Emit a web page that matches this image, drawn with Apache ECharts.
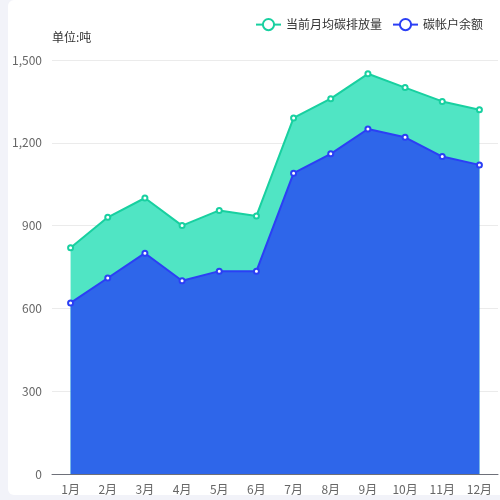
<!DOCTYPE html>
<html>
<head>
<meta charset="utf-8">
<script src="https://cdn.jsdelivr.net/npm/echarts@6/dist/echarts.min.js"></script>
<style>
  html, body { margin: 0; padding: 0; background: #f2f3f9; overflow: hidden; }
  #chart {
    position: absolute; left: 8px; top: 0; width: 492px; height: 495px;
    background: #fff; border-radius: 6px 0 0 6px;
  }
</style>
</head>
<body>
<div id="chart"></div>
<script>
// 月份
var months = ["1月", "2月", "3月", "4月", "5月", "6月", "7月", "8月", "9月", "10月", "11月", "12月"];
// 当前月均碳排放量
var emission = [820, 930, 1000, 900, 955, 935, 1290, 1360, 1450, 1400, 1350, 1320];
// 碳帐户余额
var balance = [620, 710, 800, 700, 735, 735, 1090, 1160, 1250, 1220, 1150, 1120];
var seriesNames = ["当前月均碳排放量", "碳帐户余额"];

var chart = echarts.init(document.getElementById("chart"));

var option = {
  animation: false,
  textStyle: { fontFamily: "Noto Sans CJK SC" },
  legend: {
    top: 13,
    right: 12,
    itemGap: 10,
    textStyle: { color: "#333", fontSize: 12 },
    data: seriesNames,
  },
  grid: { left: 44, right: 2, top: 60, bottom: 21, containLabel: false },
  xAxis: {
    type: "category",
    data: months,
    boundaryGap: true,
    axisLine: { lineStyle: { color: "#6e7079" } },
    axisTick: { show: false },
    axisLabel: { color: "#666", fontSize: 12, margin: 9 },
  },
  yAxis: {
    type: "value",
    min: 0,
    max: 1500,
    interval: 300,
    name: "单位:吨",
    nameGap: 17,
    nameTextStyle: { color: "#333", fontSize: 12, align: "left" },
    axisLine: { show: false },
    axisTick: { show: false },
    axisLabel: { color: "#666", fontSize: 12, margin: 10 },
    splitLine: { lineStyle: { color: "#ebebeb" } },
  },
  series: [
    {
      name: seriesNames[0],
      type: "line",
      data: emission,
      symbol: "emptyCircle",
      symbolSize: 5,
      itemStyle: { color: "#18d0a0" },
      lineStyle: { width: 2, color: "#18d0a0" },
      areaStyle: { color: "#50e5c4", opacity: 1 },
      z: 2,
    },
    {
      name: seriesNames[1],
      type: "line",
      data: balance,
      symbol: "emptyCircle",
      symbolSize: 5,
      itemStyle: { color: "#2b3ff5" },
      lineStyle: { width: 2, color: "#2b3ff5" },
      areaStyle: { color: "#2e66ea", opacity: 1 },
      z: 3,
    },
  ],
};

chart.setOption(option);
</script>
</body>
</html>
